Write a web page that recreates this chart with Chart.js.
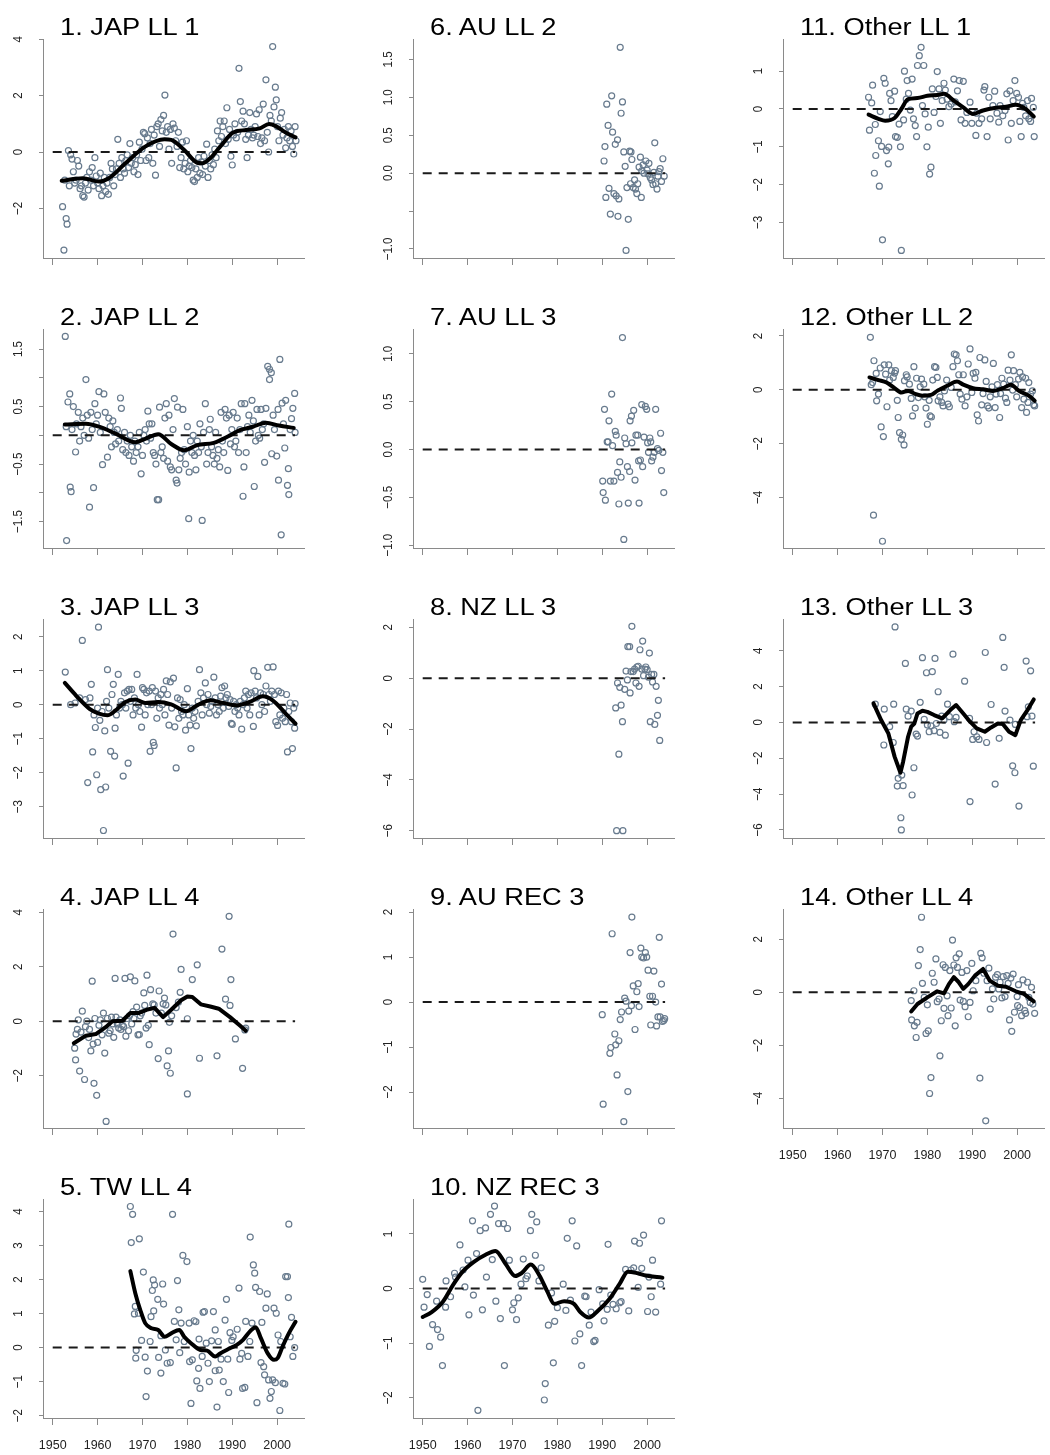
<!DOCTYPE html>
<html>
<head>
<meta charset="utf-8">
<script src="https://cdn.jsdelivr.net/npm/chart.js@4.4.0/dist/chart.umd.min.js"></script>
<style>
  body { margin: 0; background: #fff; width: 1050px; height: 1455px; position: relative; overflow: hidden; font-family: "Liberation Sans", Arial, sans-serif; }
  canvas { position: absolute; }
  .ttl { position: absolute; font-size: 23.5px; line-height: 24px; color: #000; white-space: nowrap; transform: scaleX(1.16); transform-origin: 0 0; }
</style>
</head>
<body>
<script>
// x axis (years) shared by all panels
const yearTicks = [1950, 1960, 1970, 1980, 1990, 2000];
const yearRange = [1947.84, 2006.16];
const zeroLine = [1950, 2004];

const titles = ["1. JAP LL 1", "2. JAP LL 2", "3. JAP LL 3", "4. JAP LL 4", "5. TW LL 4",
  "6. AU LL 2", "7. AU LL 3", "8. NZ LL 3", "9. AU REC 3", "10. NZ REC 3",
  "11. Other LL 1", "12. Other LL 2", "13. Other LL 3", "14. Other LL 4"];

// ---- 1. JAP LL 1
const jap1Pts = [[1952.2,-1.94],[1952.5,-3.48],[1952.7,-1.0],[1953.0,-2.36],[1953.2,-2.56],[1953.5,0.05],[1953.7,-1.2],[1954.0,-0.1],[1954.3,-0.25],[1954.6,-0.7],[1954.9,-1.1],[1955.2,-1.0],[1955.5,-0.3],[1955.8,-0.5],[1956.1,-1.3],[1956.4,-1.2],[1956.7,-1.55],[1957.0,-1.6],[1957.3,-1.1],[1957.6,-0.9],[1957.9,-1.35],[1958.2,-0.7],[1958.5,-1.0],[1958.8,-0.55],[1959.1,-1.2],[1959.4,-0.2],[1959.7,-0.85],[1960.0,-1.1],[1960.3,-1.3],[1960.6,-0.75],[1960.9,-1.55],[1961.2,-1.2],[1961.5,-0.9],[1961.8,-1.4],[1962.1,-1.1],[1962.4,-1.5],[1962.7,-0.9],[1963.0,-0.4],[1963.3,-0.6],[1963.6,-1.2],[1963.9,-0.8],[1964.2,-0.6],[1964.5,0.45],[1964.8,-0.4],[1965.1,-0.9],[1965.4,-0.2],[1965.7,-0.6],[1966.0,-0.75],[1966.3,-0.3],[1966.6,-0.1],[1966.9,-0.55],[1967.2,0.3],[1967.5,-0.4],[1967.8,-0.2],[1968.1,-0.7],[1968.4,-0.45],[1968.7,-0.1],[1969.0,-0.8],[1969.3,0.35],[1969.6,-0.3],[1969.9,0.1],[1970.2,0.7],[1970.5,0.65],[1970.8,-0.3],[1971.1,0.5],[1971.4,-0.2],[1971.7,0.3],[1972.0,0.8],[1972.3,-0.4],[1972.6,0.6],[1972.9,-0.82],[1973.2,0.9],[1973.5,1.0],[1973.8,0.2],[1974.1,1.15],[1974.4,0.75],[1974.7,1.3],[1975.0,2.02],[1975.3,0.7],[1975.6,0.9],[1975.9,0.1],[1976.2,0.8],[1976.5,-0.4],[1976.8,1.0],[1977.1,0.85],[1977.4,0.4],[1977.7,0.2],[1978.0,0.7],[1978.3,-0.55],[1978.6,-0.2],[1978.9,0.35],[1979.2,-0.6],[1979.5,-0.4],[1979.8,0.4],[1980.1,-0.7],[1980.4,-0.5],[1980.7,-0.3],[1981.0,-0.55],[1981.3,-1.0],[1981.6,-1.05],[1981.9,-0.6],[1982.2,-0.9],[1982.5,-0.2],[1982.8,-0.75],[1983.1,-0.35],[1983.4,-0.8],[1983.7,-0.15],[1984.0,-0.5],[1984.3,0.28],[1984.6,-0.9],[1984.9,-0.3],[1985.2,-0.6],[1985.5,-0.1],[1985.8,-0.45],[1986.1,0.1],[1986.4,-0.2],[1986.7,0.75],[1987.0,0.4],[1987.3,1.1],[1987.6,0.55],[1987.9,0.9],[1988.2,1.1],[1988.5,0.3],[1988.8,1.57],[1989.1,0.45],[1989.4,0.8],[1989.7,-0.15],[1990.0,-0.46],[1990.3,0.6],[1990.6,1.0],[1990.9,0.5],[1991.2,0.7],[1991.5,2.97],[1991.8,1.79],[1992.1,1.1],[1992.4,1.45],[1992.7,1.0],[1993.0,0.45],[1993.3,-0.2],[1993.6,0.6],[1993.9,1.4],[1994.2,0.8],[1994.5,0.5],[1994.8,0.6],[1995.1,0.9],[1995.4,1.35],[1995.7,0.55],[1996.0,1.5],[1996.3,0.3],[1996.6,0.5],[1996.9,1.7],[1997.2,0.4],[1997.5,2.56],[1997.8,0.7],[1998.1,0.0],[1998.4,1.3],[1998.7,1.1],[1999.0,3.74],[1999.3,1.6],[1999.6,2.3],[1999.8,1.85],[2000.1,0.9],[2000.4,0.4],[2000.7,1.2],[2001.0,1.4],[2001.3,0.6],[2001.6,0.8],[2001.9,0.15],[2002.2,0.5],[2002.5,0.9],[2002.8,0.4],[2003.1,0.75],[2003.4,0.2],[2003.7,-0.07],[2004.0,0.9],[2004.2,0.4]];
const jap1Fit = [[1952.0,-1.02],[1956.7,-0.93],[1960.3,-1.05],[1962.5,-0.93],[1966.2,-0.40],[1970.6,0.19],[1974.9,0.45],[1976.4,0.43],[1979.3,0.07],[1982.2,-0.38],[1983.3,-0.40],[1985.1,-0.22],[1987.3,0.19],[1990.2,0.69],[1993.1,0.78],[1996.1,0.84],[1998.2,0.99],[1999.7,0.92],[2001.9,0.69],[2004.1,0.52]];
const jap1Range = [-3.76, 4.01];
const jap1Ticks = [-2, 0, 2, 4];
const jap1Labels = ["−2", "0", "2", "4"];

// ---- 2. JAP LL 2
const jap2Pts = [[1952.8,1.72],[1953.1,-1.83],[1953.0,0.15],[1953.4,0.58],[1953.8,0.72],[1953.9,-0.9],[1954.1,-0.98],[1954.3,0.1],[1954.6,0.5],[1955.1,-0.29],[1955.3,0.2],[1955.7,0.4],[1956.0,-0.1],[1956.3,0.15],[1956.7,0.3],[1957.0,0.0],[1957.4,0.97],[1957.7,0.35],[1958.0,-0.05],[1958.2,-1.25],[1958.5,0.4],[1958.8,0.1],[1959.1,-0.91],[1959.4,0.55],[1959.7,0.2],[1960.0,0.35],[1960.3,0.76],[1960.6,0.05],[1961.1,-0.51],[1961.4,0.72],[1961.7,0.4],[1962.2,-0.38],[1962.5,0.3],[1962.8,0.15],[1963.1,-0.2],[1963.4,0.25],[1963.7,0.05],[1964.0,-0.15],[1964.4,0.1],[1964.7,-0.1],[1965.1,0.65],[1965.3,0.47],[1965.6,-0.25],[1966.0,0.05],[1966.3,-0.3],[1966.6,-0.1],[1967.0,-0.35],[1967.3,0.0],[1967.6,-0.2],[1968.0,-0.45],[1968.3,-0.1],[1968.6,-0.3],[1969.0,-0.2],[1969.3,0.05],[1969.7,-0.67],[1970.0,-0.35],[1970.3,0.0],[1970.6,0.1],[1970.9,-0.1],[1971.2,0.42],[1971.5,0.2],[1971.8,-0.05],[1972.1,0.2],[1972.4,-0.3],[1972.7,-0.35],[1973.0,-0.5],[1973.3,-1.12],[1973.6,-1.12],[1973.8,0.49],[1974.1,-0.3],[1974.4,-0.2],[1974.7,-0.4],[1975.0,0.3],[1975.3,0.55],[1975.6,-0.45],[1975.9,0.35],[1976.2,-0.55],[1976.5,-0.6],[1976.8,0.1],[1977.1,0.64],[1977.5,-0.78],[1977.7,-0.83],[1977.8,0.49],[1978.1,-0.6],[1978.4,-0.4],[1978.7,-0.3],[1979.0,0.45],[1979.3,-0.25],[1979.6,-0.5],[1980.0,0.15],[1980.3,-1.45],[1980.4,-0.64],[1980.7,-0.1],[1981.0,-0.3],[1981.3,0.0],[1981.6,-0.35],[1981.9,-0.6],[1982.2,-0.1],[1982.5,-0.3],[1982.8,0.2],[1983.1,-0.2],[1983.3,-1.48],[1983.6,0.05],[1984.0,0.55],[1984.3,-0.5],[1984.6,-0.3],[1984.9,0.1],[1985.1,0.28],[1985.4,-0.2],[1985.7,-0.35],[1986.0,-0.5],[1986.3,0.05],[1986.6,-0.4],[1986.9,-0.25],[1987.2,-0.55],[1987.5,0.4],[1987.8,-0.1],[1988.1,-0.3],[1988.4,0.45],[1988.7,0.3],[1989.0,-0.61],[1989.3,0.35],[1989.6,-0.15],[1989.9,0.1],[1990.2,0.4],[1990.5,-0.2],[1990.8,-0.1],[1991.1,0.3],[1991.4,-0.3],[1991.7,0.1],[1992.0,0.55],[1992.4,-1.06],[1992.6,-0.55],[1992.8,0.55],[1993.1,-0.3],[1993.4,0.15],[1993.7,0.35],[1994.0,0.05],[1994.4,0.61],[1994.7,0.25],[1994.9,-0.89],[1995.2,-0.1],[1995.5,0.45],[1995.8,0.0],[1996.1,-0.05],[1996.4,0.45],[1996.7,0.1],[1997.0,0.2],[1997.2,-0.47],[1997.5,0.47],[1997.9,1.2],[1998.3,1.15],[1998.7,1.09],[1998.3,0.97],[1998.8,-0.32],[1999.1,0.35],[1999.4,0.1],[1999.9,-0.36],[2000.2,0.45],[2000.3,-0.78],[2000.6,1.32],[2000.9,-1.73],[2001.1,0.56],[2001.4,0.2],[2001.7,-0.22],[2001.9,0.61],[2002.3,-0.87],[2002.5,-0.58],[2002.6,-1.03],[2002.9,0.1],[2003.2,0.29],[2003.5,0.47],[2003.9,0.73],[2004.0,0.05]];
const jap2Fit = [[1952.7,0.19],[1957.4,0.2],[1960.3,0.15],[1964.0,0.03],[1968.4,-0.12],[1970.6,-0.06],[1973.5,0.02],[1976.4,-0.15],[1979.3,-0.26],[1982.2,-0.17],[1985.9,-0.13],[1989.5,0.0],[1991.7,0.09],[1994.6,0.15],[1997.5,0.22],[2000.4,0.17],[2003.7,0.13]];
const jap2Range = [-1.96, 1.85];
const jap2Ticks = [-1.5, -1, -0.5, 0, 0.5, 1, 1.5];
const jap2Labels = ["−1.5", "", "−0.5", "", "0.5", "", "1.5"];

// ---- 3. JAP LL 3
const jap3Pts = [[1952.8,0.96],[1954.0,0.0],[1955.0,0.05],[1956.0,0.2],[1956.6,1.89],[1957.3,0.15],[1957.8,-2.29],[1958.3,0.2],[1958.6,0.6],[1958.9,-1.39],[1959.2,-0.3],[1959.5,-0.67],[1959.8,-2.06],[1960.0,-0.1],[1960.2,2.28],[1960.5,-0.46],[1960.7,-2.5],[1961.0,-0.2],[1961.3,-3.70],[1961.6,-0.77],[1961.8,-2.42],[1962.0,0.1],[1962.2,1.03],[1962.5,-0.1],[1962.9,-1.37],[1963.2,0.3],[1963.5,0.6],[1963.8,-1.51],[1963.9,-0.69],[1964.2,-0.3],[1964.6,0.89],[1964.9,-0.1],[1965.2,0.1],[1965.5,0.0],[1965.7,-2.1],[1966.0,0.35],[1966.3,-0.1],[1966.6,0.4],[1966.8,-1.72],[1967.0,0.45],[1967.3,0.1],[1967.6,0.45],[1967.9,-0.3],[1968.2,0.2],[1968.5,-0.1],[1968.8,0.89],[1969.1,0.0],[1969.4,-0.2],[1969.8,-0.66],[1970.0,0.5],[1970.3,0.45],[1970.6,-0.3],[1970.9,0.35],[1971.2,0.0],[1971.5,0.4],[1971.7,-1.37],[1972.0,0.0],[1972.2,0.5],[1972.4,-1.11],[1972.6,-1.2],[1972.9,0.4],[1973.2,-0.4],[1973.5,0.2],[1973.8,-0.1],[1974.1,0.3],[1974.4,0.0],[1974.7,0.45],[1975.0,-0.3],[1975.3,0.7],[1975.6,0.3],[1975.9,-0.6],[1976.2,0.67],[1976.5,-0.1],[1976.9,0.78],[1977.2,-0.65],[1977.5,-1.86],[1977.8,0.2],[1978.1,-0.4],[1978.4,0.15],[1978.7,-0.2],[1979.0,-0.3],[1979.3,0.0],[1979.6,-0.75],[1980.0,0.47],[1980.3,-0.3],[1980.6,-0.6],[1980.8,-1.29],[1981.1,-0.1],[1981.4,-0.4],[1981.7,-0.2],[1982.0,-0.62],[1982.4,0.1],[1982.7,1.03],[1983.0,0.35],[1983.3,-0.3],[1983.6,0.2],[1984.0,0.64],[1984.3,0.0],[1984.6,0.3],[1984.9,-0.25],[1985.2,-0.05],[1985.5,0.1],[1985.9,0.81],[1986.2,0.2],[1986.5,-0.3],[1986.8,0.0],[1987.1,-0.2],[1987.4,0.25],[1987.7,0.5],[1988.0,-0.1],[1988.3,0.55],[1988.6,0.2],[1988.9,0.3],[1989.2,-0.05],[1989.5,0.15],[1989.8,-0.55],[1990.0,-0.58],[1990.3,0.1],[1990.6,-0.2],[1990.9,0.0],[1991.2,-0.1],[1991.5,-0.3],[1991.8,0.1],[1992.1,-0.72],[1992.4,0.0],[1992.7,0.2],[1993.0,0.4],[1993.3,-0.1],[1993.6,0.3],[1993.9,-0.3],[1994.2,0.35],[1994.7,-0.64],[1994.8,1.0],[1995.1,0.4],[1995.4,0.2],[1995.7,0.83],[1996.0,-0.3],[1996.3,0.35],[1996.6,0.0],[1996.9,0.3],[1997.2,-0.2],[1997.5,0.55],[1997.9,1.1],[1998.2,0.3],[1998.5,0.1],[1998.8,0.4],[1999.1,1.11],[1999.4,0.3],[1999.7,-0.5],[2000.1,-0.61],[2000.3,0.4],[2000.6,-0.3],[2000.9,0.35],[2001.2,-0.4],[2001.5,-0.1],[2001.8,-0.5],[2002.1,0.3],[2002.3,-1.39],[2002.6,-0.2],[2002.9,0.05],[2003.2,-0.5],[2003.4,-1.29],[2003.7,-0.1],[2003.9,-0.69],[2004.0,0.03]];
const jap3Fit = [[1952.7,0.64],[1955.2,0.27],[1958.2,-0.12],[1960.3,-0.26],[1962.2,-0.31],[1964.0,-0.17],[1966.2,0.08],[1968.4,0.15],[1970.6,0.05],[1973.5,0.08],[1976.4,0.01],[1979.7,-0.19],[1982.2,-0.02],[1985.1,0.13],[1988.0,0.05],[1991.0,-0.02],[1993.9,0.08],[1996.8,0.25],[1999.0,0.13],[2001.9,-0.26],[2004.1,-0.56]];
const jap3Range = [-3.92, 2.52];
const jap3Ticks = [-3, -2, -1, 0, 1, 2];
const jap3Labels = ["−3", "−2", "−1", "0", "1", "2"];

// ---- 4. JAP LL 4
const jap4Pts = [[1954.9,-0.99],[1955.1,-1.42],[1955.2,-0.47],[1955.5,-0.3],[1955.7,0.05],[1956.0,-1.83],[1956.3,-0.4],[1956.6,0.37],[1957.1,-2.14],[1957.3,-0.2],[1957.6,0.0],[1958.0,-0.6],[1958.2,-0.3],[1958.5,-1.09],[1958.8,1.47],[1959.0,-0.84],[1959.2,-2.28],[1959.4,0.1],[1959.8,-2.72],[1960.0,-0.78],[1960.3,-0.15],[1960.6,0.05],[1961.0,-0.5],[1961.3,0.3],[1961.6,-1.17],[1961.9,-3.68],[1962.2,0.1],[1962.5,-0.44],[1962.8,-0.35],[1963.1,0.15],[1963.4,-0.1],[1963.6,-0.59],[1963.9,1.57],[1964.1,0.15],[1964.4,-0.1],[1964.7,-0.25],[1965.0,0.05],[1965.2,-0.3],[1965.5,-0.15],[1965.8,-0.2],[1966.1,1.57],[1966.3,-0.55],[1966.6,0.1],[1966.9,-0.35],[1967.1,0.2],[1967.3,1.63],[1967.6,-0.1],[1967.9,0.35],[1968.1,0.1],[1968.3,1.48],[1968.7,0.52],[1969.0,-0.5],[1969.3,-0.49],[1969.5,0.2],[1969.8,0.3],[1970.3,1.04],[1970.5,0.58],[1970.8,-0.25],[1971.0,1.69],[1971.3,-0.15],[1971.5,-0.86],[1971.8,1.16],[1972.3,0.64],[1972.6,0.6],[1973.0,0.3],[1973.5,-1.37],[1973.7,1.11],[1974.2,0.3],[1974.6,0.64],[1974.9,0.85],[1975.2,0.6],[1975.5,-1.64],[1975.8,-1.09],[1976.0,-0.04],[1976.2,-1.91],[1976.5,0.2],[1976.8,3.2],[1977.5,0.5],[1978.0,0.7],[1978.4,1.06],[1978.6,1.9],[1980.0,0.09],[1980.0,-2.67],[1981.1,1.53],[1982.2,2.07],[1982.7,-1.36],[1986.6,-1.27],[1987.7,2.65],[1988.5,0.81],[1989.3,3.85],[1989.5,0.58],[1989.7,1.53],[1990.7,-0.65],[1992.3,-1.73],[1992.8,-0.32],[1993.0,-0.25]];
const jap4Fit = [[1954.7,-0.81],[1957.4,-0.53],[1959.6,-0.47],[1961.8,-0.22],[1963.3,0.0],[1965.5,0.02],[1967.3,0.30],[1969.1,0.30],[1970.9,0.42],[1972.7,0.49],[1974.6,0.15],[1976.4,0.42],[1978.6,0.77],[1980.0,0.91],[1981.1,0.89],[1983.0,0.62],[1985.1,0.54],[1987.0,0.46],[1989.5,0.15],[1991.7,-0.16],[1993.0,-0.35]];
const jap4Range = [-3.92, 4.12];
const jap4Ticks = [-2, 0, 2, 4];
const jap4Labels = ["−2", "0", "2", "4"];

// ---- 5. TW LL 4
const tw4Pts = [[1967.3,4.15],[1967.8,3.92],[1967.5,3.09],[1969.3,3.2],[1968.4,1.21],[1968.2,0.99],[1969.1,1.01],[1968.6,-0.08],[1968.5,-0.31],[1969.8,0.21],[1970.2,2.22],[1970.6,-0.28],[1971.1,-0.69],[1970.8,-1.44],[1971.7,0.18],[1971.9,0.91],[1972.2,1.68],[1972.4,1.99],[1972.7,1.84],[1972.5,1.08],[1973.4,1.42],[1973.6,-0.29],[1974.1,-0.75],[1974.5,1.87],[1974.7,1.28],[1974.1,0.35],[1975.1,-0.07],[1975.5,-0.46],[1976.2,-0.44],[1976.7,3.92],[1977.1,0.77],[1977.5,0.23],[1977.8,1.97],[1978.1,1.11],[1978.3,-0.15],[1978.6,0.72],[1979.0,2.71],[1979.9,2.53],[1979.3,0.18],[1980.4,0.72],[1980.5,-0.41],[1980.8,-1.64],[1981.1,-0.36],[1981.5,0.79],[1981.9,0.76],[1982.1,-0.98],[1982.5,-0.61],[1982.6,0.25],[1982.8,-1.2],[1983.3,-0.26],[1983.5,1.04],[1983.8,1.06],[1984.2,0.13],[1984.6,-0.46],[1984.9,-1.0],[1985.4,0.2],[1985.8,1.06],[1986.2,0.52],[1986.2,-0.68],[1986.6,-1.75],[1986.9,0.18],[1987.1,-0.66],[1987.5,-0.34],[1988.0,-1.0],[1988.4,0.81],[1988.7,1.42],[1989.0,-0.34],[1989.2,-1.32],[1989.5,0.44],[1989.9,0.21],[1990.2,0.32],[1991.1,0.54],[1991.5,1.75],[1991.7,-0.34],[1992.1,-0.17],[1992.3,-1.2],[1992.8,-1.17],[1993.0,0.77],[1993.5,-0.26],[1993.9,0.18],[1994.0,3.25],[1994.4,0.72],[1994.7,2.43],[1995.0,2.19],[1995.2,1.77],[1995.5,-1.62],[1996.1,1.65],[1996.4,-0.44],[1996.6,0.74],[1997.0,-0.56],[1997.2,-0.8],[1997.5,1.16],[1997.8,1.58],[1998.1,-0.95],[1998.4,-1.49],[1998.7,-1.29],[1999.0,-0.95],[1999.3,1.16],[1999.6,-1.03],[1999.8,1.01],[2000.2,0.37],[2000.6,-1.85],[2000.8,0.18],[2001.3,-1.05],[2001.7,-1.07],[2001.9,2.09],[2002.3,2.09],[2002.5,1.47],[2002.6,3.63],[2002.9,0.32],[2003.2,0.89],[2003.5,-0.26],[2003.9,0.0]];
const tw4Fit = [[1967.3,2.25],[1968.4,1.6],[1969.5,1.11],[1970.6,0.72],[1972.0,0.57],[1973.5,0.52],[1974.9,0.32],[1976.4,0.42],[1978.2,0.52],[1979.3,0.32],[1980.8,0.13],[1982.9,-0.07],[1984.4,-0.09],[1986.2,-0.26],[1987.3,-0.17],[1989.5,-0.02],[1991.0,0.08],[1992.4,0.23],[1993.9,0.47],[1995.2,0.6],[1996.4,0.27],[1997.9,-0.17],[1999.3,-0.36],[2000.1,-0.31],[2001.2,0.03],[2002.6,0.42],[2004.1,0.76]];
const tw4Range = [-2.07, 4.37];
const tw4Ticks = [-2, -1, 0, 1, 2, 3, 4];
const tw4Labels = ["−2", "−1", "0", "1", "2", "3", "4"];

// ---- 6. AU LL 2
const au2Pts = [[1990.4,0.16],[1990.6,0.35],[1990.8,-0.32],[1991.0,0.91],[1991.3,0.63],[1991.5,-0.2],[1991.8,-0.54],[1992.1,1.02],[1992.3,0.54],[1992.6,-0.27],[1992.9,0.38],[1993.1,-0.3],[1993.4,0.44],[1993.5,-0.57],[1993.7,-0.34],[1994.0,1.66],[1994.2,0.79],[1994.5,0.94],[1994.8,0.28],[1995.1,0.09],[1995.3,-1.02],[1995.5,-0.19],[1995.8,-0.61],[1996.1,0.29],[1996.3,-0.14],[1996.4,0.28],[1996.6,0.18],[1996.9,-0.19],[1997.2,-0.09],[1997.4,-0.21],[1997.7,-0.27],[1997.9,-0.14],[1998.2,0.08],[1998.5,0.21],[1998.7,-0.32],[1998.8,0.03],[1999.1,0.11],[1999.3,0.0],[1999.7,0.16],[2000.0,0.04],[2000.2,-0.01],[2000.4,0.13],[2000.7,-0.06],[2001.0,-0.09],[2001.3,-0.15],[2001.5,0.01],[2001.7,0.40],[2001.9,-0.14],[2002.2,-0.21],[2002.4,-0.04],[2002.6,0.02],[2002.9,0.06],[2003.2,-0.11],[2003.5,0.19],[2003.8,-0.04]];
const au2Range = [-1.12, 1.77];
const au2Ticks = [-1, -0.5, 0, 0.5, 1, 1.5];
const au2Labels = ["−1.0", "", "0.0", "0.5", "1.0", "1.5"];

// ---- 7. AU LL 3
const au3Pts = [[1990.1,-0.33],[1990.2,-0.45],[1990.5,0.42],[1990.7,-0.53],[1991.1,0.08],[1991.3,0.08],[1991.5,0.3],[1991.8,-0.33],[1992.1,0.58],[1992.3,0.04],[1992.6,-0.33],[1992.9,0.19],[1993.1,0.15],[1993.4,-0.24],[1993.7,-0.57],[1993.9,-0.13],[1994.2,-0.29],[1994.5,1.17],[1994.8,-0.94],[1995.0,0.12],[1995.3,0.06],[1995.6,-0.18],[1995.8,-0.56],[1996.1,-0.23],[1996.2,0.3],[1996.5,0.35],[1996.6,0.07],[1997.0,0.41],[1997.3,-0.32],[1997.5,0.15],[1997.9,0.15],[1998.1,-0.12],[1998.2,-0.56],[1998.5,-0.11],[1998.8,0.47],[1999.0,-0.18],[1999.3,0.13],[1999.6,0.45],[1999.9,0.42],[2000.1,0.07],[2000.3,-0.03],[2000.6,0.12],[2000.8,0.08],[2001.0,-0.12],[2001.3,-0.08],[2001.6,-0.03],[2001.9,0.42],[2002.3,0.01],[2002.6,-0.01],[2003.0,0.17],[2003.2,-0.22],[2003.5,-0.03],[2003.7,-0.45]];
const au3Range = [-1.03, 1.26];
const au3Ticks = [-1, -0.5, 0, 0.5, 1];
const au3Labels = ["−1.0", "−0.5", "0.0", "0.5", "1.0"];

// ---- 8. NZ LL 3
const nz3Pts = [[1993.0,-1.17],[1993.4,-0.19],[1993.7,-2.99],[1993.9,-0.36],[1993.2,-6.0],[1994.6,-6.0],[1994.2,-1.06],[1994.5,-1.71],[1995.0,-0.44],[1995.3,0.28],[1995.6,-0.07],[1995.7,1.24],[1996.1,1.24],[1996.2,-0.58],[1996.4,0.26],[1996.6,2.04],[1996.9,0.26],[1997.2,0.36],[1997.5,-0.19],[1997.7,0.44],[1998.0,0.47],[1998.2,-0.32],[1998.4,1.12],[1998.8,0.36],[1999.0,1.46],[1999.2,0.1],[1999.5,0.36],[1999.7,0.44],[2000.0,0.34],[2000.3,0.04],[2000.5,0.99],[2000.7,-1.71],[2001.0,0.15],[2001.2,-0.15],[2001.5,0.15],[2001.7,-1.82],[2002.0,-0.32],[2002.3,-1.46],[2002.5,-0.87],[2002.8,-2.45]];
const nz3Range = [-6.29, 2.33];
const nz3Ticks = [-6, -4, -2, 0, 2];
const nz3Labels = ["−6", "−4", "−2", "0", "2"];

// ---- 9. AU REC 3
const auRecPts = [[1990.0,-0.28],[1990.2,-2.27],[1991.7,-1.14],[1991.9,-1.01],[1992.2,1.52],[1992.8,-0.71],[1993.0,-0.95],[1993.3,-1.62],[1993.7,-0.86],[1994.0,-0.39],[1994.3,-0.22],[1994.8,-2.66],[1995.0,0.09],[1995.3,0.02],[1995.7,-1.99],[1995.9,-0.2],[1996.2,1.1],[1996.5,-0.08],[1996.6,1.89],[1996.9,0.36],[1997.3,-0.61],[1997.7,0.23],[1998.0,0.41],[1998.2,-0.1],[1998.6,1.2],[1998.8,1.0],[1999.2,0.98],[1999.6,1.1],[1999.9,1.0],[2000.2,0.71],[2000.6,0.13],[2000.8,-0.51],[2001.2,0.13],[2001.5,0.69],[2001.9,0.0],[2002.1,-0.53],[2002.4,-0.33],[2002.7,1.44],[2002.9,-0.33],[2003.2,0.4],[2003.4,-0.43],[2003.7,-0.41],[2003.9,-0.37]];
const auRecRange = [-2.80, 2.07];
const auRecTicks = [-2, -1, 0, 1, 2];
const auRecLabels = ["−2", "−1", "0", "1", "2"];

// ---- 10. NZ REC 3
const nzRecPts = [[1950.0,0.17],[1950.3,-0.34],[1951.0,-0.11],[1951.5,-1.06],[1952.2,-0.66],[1953.1,-0.23],[1953.3,-0.75],[1954.0,-0.89],[1954.4,-1.41],[1955.1,-0.34],[1955.2,0.14],[1956.2,-0.15],[1957.1,0.28],[1957.3,0.21],[1958.3,0.8],[1959.0,0.34],[1959.4,0.03],[1960.1,0.52],[1960.3,-0.48],[1961.1,1.24],[1961.3,-0.12],[1962.0,0.64],[1962.3,-2.23],[1962.8,1.06],[1963.3,-0.39],[1964.0,1.11],[1964.2,0.21],[1965.1,1.36],[1965.5,0.53],[1966.0,1.51],[1966.3,-0.23],[1966.9,1.19],[1967.3,-0.55],[1968.0,1.19],[1968.2,-1.41],[1968.9,1.1],[1969.3,0.52],[1970.0,-0.39],[1970.3,-0.26],[1970.9,-0.57],[1971.3,-0.17],[1971.9,0.08],[1972.4,0.54],[1973.0,0.18],[1973.3,0.23],[1974.0,1.06],[1974.3,1.36],[1975.1,0.61],[1975.4,1.22],[1975.9,0.14],[1976.4,0.38],[1977.1,-2.04],[1977.3,-1.74],[1978.0,-0.67],[1978.7,-0.08],[1979.1,-1.36],[1979.4,-0.6],[1980.0,-0.35],[1981.3,0.08],[1981.9,-0.4],[1982.2,0.92],[1982.9,-0.21],[1983.3,1.24],[1983.9,-0.96],[1984.3,0.78],[1985.0,-0.83],[1985.4,-1.41],[1986.1,-0.14],[1986.4,-0.15],[1987.1,-0.67],[1987.5,-0.43],[1988.1,-0.97],[1988.4,-0.95],[1989.3,-0.02],[1990.1,-0.28],[1990.4,-0.59],[1991.1,-0.38],[1991.3,0.81],[1991.9,-0.12],[1992.4,-0.29],[1993.1,-0.37],[1993.9,-0.26],[1994.2,-0.24],[1995.2,0.35],[1995.9,-0.41],[1996.4,0.34],[1997.0,0.38],[1997.2,0.87],[1998.0,0.02],[1998.3,0.83],[1998.8,0.37],[1999.2,0.98],[2000.1,-0.42],[2000.4,0.21],[2000.9,-0.15],[2001.2,0.52],[2001.9,-0.43],[2003.0,0.08],[2003.2,1.24]];
const nzRecFit = [[1950.0,-0.52],[1952.0,-0.43],[1954.5,-0.24],[1956.7,0.06],[1958.9,0.31],[1961.4,0.49],[1964.0,0.62],[1966.2,0.69],[1968.4,0.46],[1970.6,0.23],[1972.0,0.28],[1974.1,0.44],[1976.0,0.24],[1977.8,-0.06],[1979.3,-0.28],[1981.5,-0.23],[1983.7,-0.28],[1985.1,-0.43],[1987.0,-0.53],[1989.1,-0.4],[1991.7,-0.18],[1993.9,0.09],[1995.7,0.31],[1997.9,0.28],[1999.7,0.24],[2003.4,0.2]];
const nzRecRange = [-2.37, 1.64];
const nzRecTicks = [-2, -1, 0, 1];
const nzRecLabels = ["−2", "−1", "0", "1"];

// ---- 11. Other LL 1
const oth1Pts = [[1966.9,0.31],[1967.6,0.16],[1967.1,-0.56],[1967.8,0.63],[1968.4,-0.41],[1968.5,-1.23],[1968.2,-1.7],[1969.1,-0.84],[1969.5,-0.07],[1969.3,-2.04],[1969.8,-0.99],[1970.0,-3.46],[1970.3,0.81],[1970.6,0.68],[1970.9,-1.1],[1971.3,-1.45],[1971.4,-1.01],[1971.6,0.41],[1971.9,0.22],[1972.2,-0.2],[1972.7,0.47],[1972.9,-0.73],[1973.3,-0.75],[1973.7,-0.4],[1974.0,-1.0],[1974.2,-3.74],[1974.7,-0.29],[1974.9,1.0],[1975.3,0.26],[1975.5,0.75],[1975.8,0.41],[1976.2,-0.03],[1976.6,0.79],[1976.9,-0.26],[1977.3,-0.44],[1977.6,-0.73],[1977.8,1.15],[1978.2,1.41],[1978.6,1.63],[1978.9,0.09],[1979.2,1.15],[1979.5,-0.13],[1979.9,-1.0],[1980.2,-0.48],[1980.5,-1.72],[1980.8,-1.54],[1981.1,0.53],[1981.5,-0.09],[1981.9,0.33],[1982.2,0.99],[1982.6,0.53],[1982.9,-0.38],[1983.3,0.22],[1983.7,0.68],[1984.0,0.5],[1984.4,0.26],[1984.8,0.06],[1985.3,0.13],[1985.9,0.79],[1986.2,0.19],[1986.7,0.48],[1987.1,0.75],[1987.5,-0.29],[1988.0,0.73],[1988.4,-0.38],[1988.8,-0.09],[1989.5,0.18],[1989.9,-0.38],[1990.8,-0.7],[1991.0,-0.11],[1991.5,-0.38],[1992.1,-0.26],[1992.6,0.5],[1992.8,0.59],[1993.3,-0.73],[1993.7,0.31],[1994.0,-0.26],[1994.6,0.09],[1995.0,0.47],[1995.5,-0.11],[1995.9,-0.35],[1996.2,0.09],[1996.8,-0.18],[1997.3,-0.04],[1997.7,0.4],[1998.0,-0.82],[1998.4,0.48],[1998.7,-0.38],[1999.1,0.22],[1999.5,0.75],[1999.9,0.41],[2000.3,0.31],[2000.6,-0.33],[2000.9,-0.73],[2001.2,0.15],[2001.5,0.04],[2001.9,-0.18],[2002.3,0.22],[2002.6,-0.26],[2003.0,-0.33],[2003.2,0.28],[2003.6,0.04],[2003.8,-0.73]];
const oth1Fit = [[1966.9,-0.15],[1969.1,-0.26],[1970.6,-0.31],[1972.7,-0.24],[1974.2,0.0],[1975.7,0.26],[1977.8,0.29],[1980.0,0.35],[1982.2,0.37],[1983.7,0.4],[1985.9,0.22],[1988.0,0.04],[1990.2,-0.13],[1992.4,-0.04],[1995.3,0.03],[1997.5,0.06],[1999.7,0.11],[2001.9,0.0],[2003.7,-0.2]];
const oth1Range = [-3.94, 1.85];
const oth1Ticks = [-3, -2, -1, 0, 1];
const oth1Labels = ["−3", "−2", "−1", "0", "1"];

// ---- 12. Other LL 2
const oth2Pts = [[1967.3,1.95],[1967.5,0.19],[1967.8,0.27],[1968.1,1.08],[1968.0,-4.66],[1968.6,0.61],[1968.7,-0.41],[1969.1,-0.16],[1969.5,0.81],[1969.7,-1.38],[1970.0,-5.63],[1970.2,-1.74],[1970.4,0.93],[1970.7,0.58],[1971.0,-0.63],[1971.4,0.93],[1971.6,0.36],[1972.0,0.71],[1972.4,0.46],[1972.7,0.62],[1972.9,0.71],[1973.3,-0.39],[1973.5,-1.03],[1973.8,-1.59],[1974.2,-1.84],[1974.5,-1.68],[1974.8,-2.05],[1974.9,0.34],[1975.3,0.56],[1975.5,0.48],[1976.0,0.21],[1976.4,-0.32],[1976.7,-0.97],[1977.0,0.86],[1977.3,-0.68],[1977.6,0.43],[1978.0,-0.29],[1978.4,0.11],[1978.7,0.4],[1979.2,0.21],[1979.4,-0.26],[1979.7,-0.68],[1980.0,-1.28],[1980.4,-0.39],[1980.6,-0.97],[1980.9,-1.01],[1981.2,0.36],[1981.6,0.86],[1981.9,0.83],[1982.2,0.46],[1982.4,-0.41],[1982.8,-0.26],[1983.2,-0.47],[1983.5,-0.6],[1983.8,-0.04],[1984.3,0.36],[1984.6,-0.53],[1984.9,-0.63],[1985.3,0.09],[1985.7,0.86],[1986.0,1.33],[1986.4,1.3],[1986.7,1.08],[1987.0,0.56],[1987.3,-0.16],[1987.7,-0.35],[1988.0,0.56],[1988.4,-0.6],[1988.8,-0.26],[1989.1,0.96],[1989.5,1.52],[1989.9,-0.1],[1990.2,0.61],[1990.6,0.43],[1990.8,0.65],[1991.1,-0.93],[1991.4,-1.16],[1991.7,1.2],[1992.1,-0.56],[1992.4,-0.14],[1992.8,1.11],[1993.1,0.31],[1993.4,-0.6],[1993.7,-0.68],[1994.0,-0.26],[1994.4,0.11],[1994.7,0.98],[1995.1,-0.66],[1995.3,-0.16],[1995.6,0.19],[1996.1,-1.03],[1996.3,-0.14],[1996.6,0.43],[1997.0,0.21],[1997.4,-0.31],[1997.7,-0.47],[1998.0,0.73],[1998.4,0.36],[1998.7,1.3],[1999.0,-0.01],[1999.2,0.71],[1999.6,0.19],[1999.9,-0.26],[2000.3,0.4],[2000.6,0.65],[2001.0,-0.66],[2001.2,0.48],[2001.5,-0.35],[2001.9,0.43],[2002.1,-0.84],[2002.4,-0.47],[2002.6,0.27],[2003.0,-0.16],[2003.4,-0.04],[2003.7,-0.56],[2003.9,-0.6]];
const oth2Fit = [[1967.1,0.46],[1969.1,0.36],[1970.9,0.27],[1972.7,0.06],[1974.2,-0.1],[1975.7,-0.04],[1977.1,-0.14],[1978.9,-0.22],[1980.8,-0.19],[1982.2,-0.04],[1984.4,0.15],[1986.6,0.31],[1988.0,0.19],[1990.2,0.06],[1992.4,0.02],[1994.6,-0.04],[1996.8,0.06],[1998.6,0.19],[2000.4,-0.04],[2002.6,-0.22],[2003.9,-0.41]];
const oth2Range = [-5.88, 2.26];
const oth2Ticks = [-4, -2, 0, 2];
const oth2Labels = ["−4", "−2", "0", "2"];

// ---- 13. Other LL 3
const oth3Pts = [[1968.4,1.02],[1970.4,0.74],[1970.3,-1.26],[1971.6,-0.24],[1972.4,-1.12],[1972.5,1.02],[1972.8,5.33],[1973.3,-3.55],[1973.5,-3.12],[1974.2,-6.0],[1974.1,-5.32],[1974.3,-2.94],[1974.6,-3.53],[1975.1,3.29],[1975.3,0.74],[1975.7,0.35],[1976.4,0.63],[1976.6,-4.05],[1977.0,-2.53],[1977.5,-0.65],[1977.8,-0.76],[1978.4,1.12],[1978.9,3.61],[1979.3,0.17],[1979.8,2.77],[1980.0,-0.15],[1980.4,-0.52],[1980.8,-0.19],[1981.1,2.83],[1981.5,-0.46],[1981.7,3.57],[1982.0,-0.06],[1982.4,1.71],[1982.8,-0.56],[1983.2,0.35],[1983.7,0.13],[1984.0,-0.71],[1984.5,1.02],[1984.9,0.32],[1985.7,3.81],[1986.0,0.04],[1986.4,0.28],[1988.3,2.3],[1989.4,0.22],[1989.5,-4.42],[1990.1,-0.95],[1990.4,-0.52],[1991.0,-0.8],[1991.5,-0.95],[1992.9,3.9],[1993.2,-1.12],[1994.2,1.0],[1995.1,-3.44],[1996.0,-0.89],[1996.8,4.74],[1997.1,3.07],[1997.3,0.63],[1998.4,0.13],[1999.0,-2.42],[1999.5,-2.81],[1999.6,-0.11],[2000.4,-4.67],[2002.0,3.42],[2002.2,0.32],[2002.5,0.87],[2003.0,2.88],[2003.3,0.35],[2003.6,-2.44]];
const oth3Fit = [[1968.0,1.06],[1969.7,0.13],[1971.3,-0.61],[1972.7,-1.91],[1974.0,-2.81],[1974.6,-2.19],[1975.7,-0.8],[1976.4,-0.24],[1977.1,-0.06],[1977.8,0.5],[1978.9,0.65],[1980.0,0.59],[1981.5,0.41],[1983.3,0.22],[1985.1,0.69],[1986.4,0.97],[1988.0,0.5],[1989.5,0.04],[1991.0,-0.33],[1992.8,-0.52],[1994.2,-0.28],[1995.7,-0.06],[1996.8,-0.09],[1998.2,-0.52],[1999.6,-0.71],[2000.8,0.13],[2002.3,0.69],[2003.7,1.28]];
const oth3Range = [-6.45, 5.77];
const oth3Ticks = [-6, -4, -2, 0, 2, 4];
const oth3Labels = ["−6", "−4", "−2", "0", "2", "4"];

// ---- 14. Other LL 4
const oth4Pts = [[1976.4,-0.31],[1976.5,-1.04],[1977.0,0.06],[1977.1,-1.26],[1977.5,-1.7],[1977.7,-1.13],[1978.0,1.01],[1978.4,1.61],[1978.7,2.83],[1978.9,0.34],[1979.3,-0.19],[1979.7,-1.55],[1980.0,-0.47],[1980.2,-1.45],[1980.5,-3.81],[1980.8,-3.21],[1981.1,0.72],[1981.5,0.38],[1981.9,1.26],[1982.2,-0.35],[1982.6,-0.25],[1982.8,-2.39],[1983.1,-1.07],[1983.5,1.04],[1983.7,-0.6],[1984.0,0.94],[1984.4,-0.13],[1984.6,-0.88],[1985.0,0.82],[1985.3,-0.59],[1985.6,1.97],[1985.9,1.03],[1986.2,-1.26],[1986.4,1.3],[1986.7,0.94],[1987.1,1.45],[1987.3,-0.29],[1987.7,0.75],[1988.0,-0.34],[1988.4,-0.54],[1988.8,0.82],[1989.1,-0.92],[1989.5,-0.38],[1989.9,1.09],[1990.2,0.06],[1990.8,0.44],[1991.7,-3.23],[1991.9,1.47],[1992.2,1.3],[1992.6,0.72],[1993.0,-4.84],[1993.3,0.44],[1993.7,0.91],[1994.0,-0.63],[1994.5,0.13],[1994.8,-0.25],[1995.2,0.57],[1995.6,0.67],[1995.9,0.13],[1996.2,0.38],[1996.6,-0.21],[1996.9,0.59],[1997.3,-0.16],[1997.7,0.63],[1998.0,0.34],[1998.3,-1.04],[1998.6,0.54],[1998.8,-1.47],[1999.1,0.69],[1999.4,-0.75],[2000.0,-0.16],[2000.1,-0.5],[2000.3,0.29],[2000.6,-0.57],[2001.0,-0.88],[2001.3,0.47],[2001.7,-0.69],[2001.9,-0.79],[2002.3,0.38],[2002.6,-0.19],[2002.9,-0.38],[2003.2,0.19],[2003.5,-0.44],[2003.9,-0.79]];
const oth4Fit = [[1976.4,-0.72],[1977.8,-0.44],[1980.0,-0.19],[1982.2,0.04],[1983.7,-0.04],[1984.8,0.31],[1985.9,0.57],[1987.0,0.38],[1988.0,0.13],[1989.1,0.31],[1990.6,0.63],[1992.4,0.88],[1993.9,0.44],[1995.7,0.25],[1997.5,0.21],[1999.7,0.04],[2001.5,-0.06],[2003.7,-0.34]];
const oth4Range = [-5.11, 3.14];
const oth4Ticks = [-4, -2, 0, 2];
const oth4Labels = ["−4", "−2", "0", "2"];

// panel list: [points, fit, range, ticks, labels, column, row, smooth]
const panels = [
  [jap1Pts, jap1Fit, jap1Range, jap1Ticks, jap1Labels, 0, 0, true],
  [jap2Pts, jap2Fit, jap2Range, jap2Ticks, jap2Labels, 0, 1, true],
  [jap3Pts, jap3Fit, jap3Range, jap3Ticks, jap3Labels, 0, 2, true],
  [jap4Pts, jap4Fit, jap4Range, jap4Ticks, jap4Labels, 0, 3, false],
  [tw4Pts, tw4Fit, tw4Range, tw4Ticks, tw4Labels, 0, 4, true],
  [au2Pts, null, au2Range, au2Ticks, au2Labels, 1, 0, true],
  [au3Pts, null, au3Range, au3Ticks, au3Labels, 1, 1, true],
  [nz3Pts, null, nz3Range, nz3Ticks, nz3Labels, 1, 2, true],
  [auRecPts, null, auRecRange, auRecTicks, auRecLabels, 1, 3, true],
  [nzRecPts, nzRecFit, nzRecRange, nzRecTicks, nzRecLabels, 1, 4, true],
  [oth1Pts, oth1Fit, oth1Range, oth1Ticks, oth1Labels, 2, 0, true],
  [oth2Pts, oth2Fit, oth2Range, oth2Ticks, oth2Labels, 2, 1, true],
  [oth3Pts, oth3Fit, oth3Range, oth3Ticks, oth3Labels, 2, 2, false],
  [oth4Pts, oth4Fit, oth4Range, oth4Ticks, oth4Labels, 2, 3, false]
];
const withYearLabels = [4, 9, 13];

const axisGrey = "#8a8a8a";
const pointColor = "#687b8e";

// R style rotated y tick labels, placed at the scale's own tick pixels
const yLabelPlugin = {
  id: "yLabels",
  afterDraw(chart) {
    const s = chart.scales.y;
    const opts = chart.options.plugins.yLabels;
    const ctx = chart.ctx;
    ctx.save();
    ctx.fillStyle = "#222";
    ctx.font = "11.5px 'Liberation Sans', Arial, sans-serif";
    ctx.textAlign = "center";
    ctx.textBaseline = "middle";
    s.ticks.forEach((t, i) => {
      if (!opts.labels[i]) return;
      ctx.save();
      ctx.translate(opts.x, s.getPixelForValue(t.value));
      ctx.rotate(-Math.PI / 2);
      ctx.scale(1, 1.15);
      ctx.fillText(opts.labels[i], 0, 0);
      ctx.restore();
    });
    ctx.restore();
  }
};

panels.forEach(function (p, idx) {
  const [pts, fit, range, ticks, labels, col, row, smooth] = p;
  const left = col * 370, top = row * 290;

  const cv = document.createElement("canvas");
  cv.width = 310;
  cv.height = 300;
  cv.style.left = left + "px";
  cv.style.top = top + "px";
  document.body.appendChild(cv);

  const ttl = document.createElement("div");
  ttl.className = "ttl";
  ttl.textContent = titles[idx];
  ttl.style.left = (left + 60) + "px";
  ttl.style.top = (top + 15) + "px";
  document.body.appendChild(ttl);

  const datasets = [];
  if (fit) {
    datasets.push({
      data: fit.map(d => ({ x: d[0], y: d[1] })),
      showLine: true,
      borderColor: "#000",
      borderWidth: 4,
      pointRadius: 0,
      borderCapStyle: "round",
      borderJoinStyle: "round",
      cubicInterpolationMode: smooth ? "monotone" : "default",
      tension: 0
    });
  }
  datasets.push({
    data: zeroLine.map(x => ({ x: x, y: 0 })),
    showLine: true,
    borderColor: "#1a1a1a",
    borderWidth: 2,
    borderDash: [9, 7],
    pointRadius: 0
  });
  datasets.push({
    data: pts.map(d => ({ x: d[0], y: d[1] })),
    showLine: false,
    pointRadius: 3,
    pointBorderWidth: 1.2,
    pointBorderColor: pointColor,
    pointBackgroundColor: "rgba(0,0,0,0)"
  });

  const showYears = withYearLabels.indexOf(idx) >= 0;

  new Chart(cv.getContext("2d"), {
    type: "scatter",
    data: { datasets: datasets },
    options: {
      responsive: false,
      animation: false,
      devicePixelRatio: 1,
      events: [],
      layout: { padding: { top: 39, right: 3, bottom: 10, left: 0 } },
      plugins: {
        legend: { display: false },
        tooltip: { enabled: false },
        yLabels: { labels: labels, x: 18 }
      },
      scales: {
        x: {
          type: "linear",
          min: yearRange[0],
          max: yearRange[1],
          afterBuildTicks: s => { s.ticks = yearTicks.map(v => ({ value: v })); },
          afterFit: s => { s.height = 32; },
          grid: { drawOnChartArea: false, drawTicks: true, tickLength: 7, color: axisGrey },
          border: { display: true, color: axisGrey, width: 1 },
          ticks: {
            display: showYears,
            autoSkip: false,
            maxRotation: 0,
            padding: 13,
            color: "#222",
            font: { size: 12.5, family: "'Liberation Sans', Arial, sans-serif" },
            callback: v => String(v)
          }
        },
        y: {
          type: "linear",
          min: range[0],
          max: range[1],
          afterBuildTicks: s => { s.ticks = ticks.map(v => ({ value: v })); },
          afterFit: s => { s.width = 43; },
          grid: { drawOnChartArea: false, drawTicks: true, tickLength: 4, color: axisGrey },
          border: { display: true, color: axisGrey, width: 1 },
          ticks: { display: false }
        }
      }
    },
    plugins: [yLabelPlugin]
  });
});
</script>
</body>
</html>
